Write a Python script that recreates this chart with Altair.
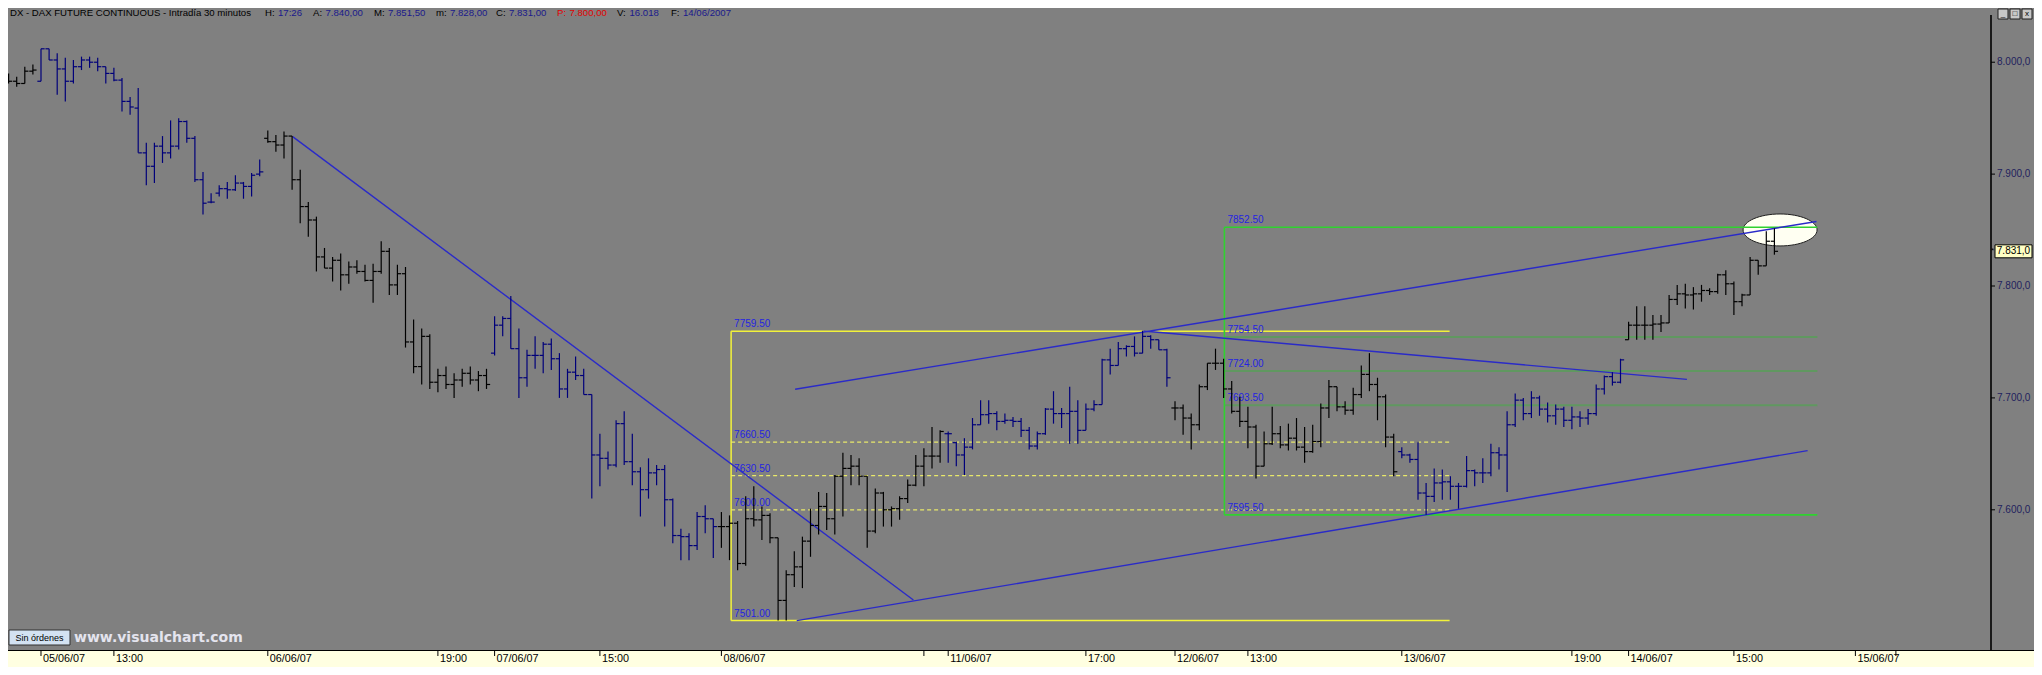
import altair as alt
import pandas as pd

# ---------------- data (30-minute OHLC bars, DAX future) ----------------
opens = [
    7983, 7983, 7981, 7992,
    7983, 8012, 8002, 7994, 7983, 7996, 8002, 8000, 7996, 7990, 7984, 7965, 7959, 7919,
    7907, 7925, 7919, 7925, 7947, 7932, 7895, 7875, 7883, 7887, 7886, 7892, 7889, 7900,
    7932, 7929, 7926, 7934, 7895, 7871, 7859, 7826, 7816, 7823, 7810, 7817, 7813, 7805,
    7813, 7831, 7801, 7811, 7750, 7728, 7755, 7714, 7720, 7712, 7716, 7722, 7716, 7720,
    7740, 7765, 7771, 7744, 7718, 7738, 7738, 7748, 7735, 7708, 7723, 7720, 7703, 7649,
    7646, 7640, 7677, 7643, 7634, 7618, 7633, 7636, 7609, 7577, 7576, 7568, 7594, 7592,
    7585, 7585, 7588, 7552, 7592, 7591, 7595, 7575, 7519, 7542, 7549, 7572, 7586, 7603,
    7592, 7630, 7637, 7639, 7630, 7581, 7615, 7600, 7601, 7610, 7622, 7639, 7648, 7648,
    7668, 7660, 7649, 7656, 7676, 7685, 7686, 7679, 7680, 7679, 7671, 7657, 7668, 7690,
    7686, 7686, 7688, 7671, 7690, 7694, 7734, 7729, 7744, 7746, 7740, 7755, 7752, 7743,
    7691, 7691, 7682, 7676, 7710, 7731, 7731, 7708, 7688, 7679, 7674, 7639, 7659, 7668,
    7658, 7664, 7656, 7652, 7661, 7691, 7710, 7692, 7689, 7703, 7721, 7712, 7701, 7665,
    7652, 7649, 7645, 7615, 7612, 7624, 7625, 7621, 7621, 7635, 7633, 7633, 7651, 7649,
    7676, 7698, 7686, 7700, 7690, 7684, 7690, 7680, 7683, 7682, 7686, 7708, 7719, 7714,
    7752, 7765, 7765, 7765, 7766, 7767, 7788, 7793, 7792, 7793, 7796, 7795, 7810, 7802,
    7786, 7792, 7823, 7818, 7840,
]
highs = [
    7990, 7987, 7996, 7998,
    8012, 8012, 8008, 8004, 8002, 8005, 8005, 8004, 7996, 7995, 7986, 7969, 7977, 7928,
    7928, 7934, 7948, 7950, 7948, 7934, 7902, 7883, 7890, 7893, 7899, 7893, 7901, 7913,
    7939, 7935, 7938, 7934, 7904, 7875, 7862, 7834, 7826, 7829, 7822, 7823, 7819, 7820,
    7840, 7834, 7819, 7817, 7770, 7762, 7757, 7726, 7728, 7722, 7726, 7728, 7724, 7726,
    7773, 7773, 7791, 7762, 7743, 7755, 7750, 7753, 7740, 7726, 7737, 7726, 7703, 7668,
    7652, 7680, 7688, 7668, 7638, 7646, 7640, 7640, 7610, 7583, 7579, 7598, 7604, 7592,
    7598, 7595, 7590, 7612, 7621, 7603, 7597, 7575, 7546, 7563, 7576, 7601, 7616, 7615,
    7631, 7651, 7649, 7646, 7630, 7619, 7616, 7603, 7612, 7627, 7649, 7655, 7674, 7671,
    7670, 7661, 7664, 7682, 7698, 7698, 7688, 7686, 7683, 7682, 7674, 7670, 7691, 7706,
    7691, 7710, 7698, 7695, 7698, 7735, 7744, 7750, 7747, 7755, 7760, 7756, 7752, 7744,
    7697, 7694, 7686, 7712, 7731, 7744, 7735, 7715, 7701, 7692, 7676, 7670, 7692, 7675,
    7677, 7682, 7674, 7676, 7695, 7716, 7710, 7697, 7709, 7729, 7740, 7718, 7703, 7668,
    7656, 7650, 7661, 7624, 7637, 7636, 7630, 7624, 7648, 7636, 7646, 7659, 7656, 7688,
    7704, 7700, 7706, 7702, 7696, 7694, 7692, 7692, 7688, 7690, 7712, 7720, 7723, 7735,
    7768, 7782, 7782, 7774, 7774, 7792, 7801, 7802, 7799, 7801, 7798, 7811, 7814, 7804,
    7793, 7826, 7823, 7849, 7851.5,
]
lows = [
    7981, 7978, 7981, 7989,
    7983, 8002, 7971, 7965, 7981, 7993, 7995, 7992, 7981, 7983, 7956, 7953, 7919, 7890,
    7892, 7910, 7914, 7922, 7928, 7893, 7864, 7874, 7880, 7878, 7885, 7878, 7880, 7898,
    7928, 7920, 7914, 7886, 7856, 7844, 7813, 7816, 7804, 7796, 7802, 7811, 7804, 7785,
    7811, 7792, 7792, 7745, 7722, 7712, 7708, 7705, 7708, 7700, 7710, 7712, 7706, 7708,
    7738, 7755, 7744, 7700, 7710, 7726, 7722, 7725, 7700, 7700, 7716, 7703, 7610, 7621,
    7636, 7638, 7640, 7622, 7594, 7610, 7622, 7585, 7570, 7555, 7555, 7564, 7579, 7557,
    7566, 7555, 7546, 7550, 7585, 7573, 7570, 7501, 7501, 7531, 7530, 7558, 7578, 7582,
    7578, 7594, 7622, 7622, 7566, 7579, 7585, 7585, 7591, 7606, 7621, 7621, 7637, 7642,
    7642, 7639, 7631, 7654, 7676, 7677, 7671, 7677, 7674, 7665, 7654, 7654, 7667, 7677,
    7673, 7659, 7659, 7671, 7688, 7694, 7721, 7729, 7737, 7737, 7740, 7744, 7743, 7710,
    7680, 7667, 7654, 7671, 7707, 7725, 7700, 7686, 7674, 7655, 7628, 7639, 7658, 7655,
    7653, 7653, 7642, 7651, 7656, 7682, 7688, 7685, 7685, 7700, 7706, 7680, 7656, 7630,
    7646, 7642, 7609, 7595.5, 7607, 7609, 7609, 7601, 7620, 7621, 7624, 7630, 7636, 7616,
    7674, 7680, 7682, 7684, 7678, 7676, 7674, 7672, 7674, 7676, 7684, 7703, 7711, 7713,
    7752, 7752, 7752, 7752, 7759, 7767, 7783, 7780, 7779, 7786, 7792, 7793, 7792, 7774,
    7782, 7792, 7810, 7818, 7828,
]
closes = [
    7983, 7981, 7992, 7993,
    8012, 8002, 7994, 7983, 7996, 8002, 8000, 7996, 7990, 7984, 7965, 7960, 7919, 7907,
    7925, 7919, 7925, 7947, 7932, 7895, 7874, 7875, 7887, 7886, 7892, 7889, 7899, 7902,
    7929, 7926, 7934, 7895, 7871, 7859, 7826, 7816, 7823, 7810, 7817, 7813, 7805, 7813,
    7831, 7801, 7811, 7750, 7728, 7755, 7714, 7720, 7712, 7716, 7722, 7716, 7720, 7712,
    7765, 7771, 7744, 7718, 7738, 7738, 7748, 7735, 7708, 7723, 7720, 7703, 7649, 7646,
    7640, 7677, 7643, 7634, 7618, 7633, 7636, 7609, 7577, 7576, 7568, 7594, 7592, 7585,
    7585, 7588, 7552, 7592, 7591, 7595, 7575, 7519, 7542, 7549, 7572, 7586, 7603, 7592,
    7630, 7637, 7639, 7630, 7581, 7615, 7600, 7601, 7610, 7622, 7639, 7648, 7648, 7670,
    7668, 7649, 7656, 7676, 7685, 7686, 7679, 7680, 7679, 7671, 7657, 7668, 7690, 7686,
    7686, 7688, 7671, 7690, 7694, 7734, 7729, 7744, 7746, 7740, 7755, 7752, 7743, 7718,
    7691, 7682, 7676, 7710, 7731, 7731, 7708, 7688, 7679, 7674, 7639, 7659, 7668, 7658,
    7664, 7656, 7652, 7661, 7691, 7710, 7692, 7689, 7703, 7721, 7712, 7701, 7665, 7634,
    7649, 7645, 7615, 7612, 7624, 7625, 7621, 7621, 7635, 7633, 7633, 7651, 7649, 7676,
    7698, 7686, 7700, 7690, 7684, 7690, 7680, 7683, 7682, 7686, 7708, 7719, 7714, 7734,
    7765, 7765, 7765, 7766, 7767, 7788, 7793, 7792, 7793, 7796, 7795, 7810, 7802, 7786,
    7792, 7823, 7818, 7840, 7831,
]
# first bar index of each trading day (04/06 tail, 05/06 ... 14/06)
day_starts = [0, 4, 32, 60, 88, 116, 144, 172, 200]

# bottom time axis (bar index -> label)
tick_idx = [4, 13, 32, 53, 60, 73, 88, 113, 116, 133, 144, 153, 172, 193, 200, 213, 228, 233]
tick_txt = ["05/06/07", "13:00", "06/06/07", "19:00", "07/06/07", "15:00", "08/06/07", "",
            "11/06/07", "17:00", "12/06/07", "13:00", "13/06/07", "19:00", "14/06/07", "15:00",
            "15/06/07", ""]
price_ticks = [7600, 7700, 7800, 7900, 8000]

# drawn trend lines (bar index, price)
trend_x1 = [35.07, 97.3, 97.1, 140.1]
trend_y1 = [7933.5, 7501.0, 7707.7, 7759.8]
trend_x2 = [111.7, 222.1, 223.2, 207.2]
trend_y2 = [7519.4, 7652.9, 7857.7, 7716.6]

# retracement boxes
fib1_levels = [7759.5, 7660.5, 7630.5, 7600.0, 7501.0]
fib1_solid = [True, False, False, False, True]
fib1_x = [89.2, 177.9]
fib2_levels = [7852.5, 7754.5, 7724.0, 7693.5, 7595.5]
fib2_solid = [True, False, False, False, True]
fib2_x = [150.1, 223.3]

ellipse_center = (218.7, 7850.1)
last_price = 7831.0

# header line
header_title = "DX - DAX FUTURE CONTINUOUS - Intradía 30 minutos"
header_keys = ["H:", "A:", "M:", "m:", "C:", "P:", "V:", "F:"]
header_vals = ["17:26", "7.840,00", "7.851,50", "7.828,00", "7.831,00", "7.800,00", "16.018", "14/06/2007"]
header_x = [265, 313, 374, 436, 496, 557, 617, 671]

# ---------------- build tables ----------------
n = len(opens)
day_of = []
d = 0
for k in range(n):
    while d + 1 < len(day_starts) and k >= day_starts[d + 1]:
        d += 1
    day_of.append(d)

bars = pd.DataFrame({
    "k": list(range(n)), "o": opens, "h": highs, "l": lows, "c": closes,
    "shade": ["navy" if dd % 2 else "black" for dd in day_of],
})

W, H = 1983, 628
xs = alt.Scale(domain=[-0.074, 244.74], nice=False, zero=False)
ys = alt.Scale(domain=[7474.7, 8035.95], nice=False, zero=False)
cs = alt.Scale(domain=["black", "navy"], range=["#000000", "#00007a"])
FONT = "Liberation Sans"

one = pd.DataFrame({"a": [0]})

# bottom yellow strip
strip = alt.Chart(one).mark_rect(color="#ffffe1").encode(
    x=alt.value(-10), x2=alt.value(2100), y=alt.value(H), y2=alt.value(H + 40))

# ---- hand-made axes ----
xt = pd.DataFrame({"k": tick_idx, "t": tick_txt})
x_dom = alt.Chart(one).mark_rule(color="#000000", strokeWidth=1).encode(
    x=alt.value(-10), x2=alt.value(W + 60), y=alt.value(H + 0.5))
x_ticks = alt.Chart(xt).mark_rule(color="#000000", strokeWidth=1).encode(
    x=alt.X("k:Q", scale=xs, axis=None), y=alt.value(H), y2=alt.value(H + 6))
x_lbls = alt.Chart(xt).mark_text(align="left", baseline="top", dx=2, fontSize=10.8, font=FONT,
                                 color="#000000").encode(
    x=alt.X("k:Q", scale=xs, axis=None), y=alt.value(H + 3), text="t:N")


def es_fmt(v):
    return f"{v:,.1f}".replace(",", "#").replace(".", ",").replace("#", ".")


yt = pd.DataFrame({"p": price_ticks, "t": [es_fmt(v) for v in price_ticks]})
y_dom = alt.Chart(one).mark_rule(color="#000000", strokeWidth=1.6).encode(
    x=alt.value(W), y=alt.value(-7), y2=alt.value(H))
y_ticks = alt.Chart(yt).mark_rule(color="#000000", strokeWidth=1).encode(
    y=alt.Y("p:Q", scale=ys, axis=None), x=alt.value(W), x2=alt.value(W + 4))
y_lbls = alt.Chart(yt).mark_text(align="left", baseline="middle", fontSize=10, font=FONT,
                                 color="#22225e").encode(
    y=alt.Y("p:Q", scale=ys, axis=None), x=alt.value(W + 6), text="t:N")

# ellipse highlight
ell = alt.Chart(pd.DataFrame({"k": [ellipse_center[0]], "p": [ellipse_center[1]]})).mark_point(
    shape="M-1,0 A1,0.432 0 1,1 1,0 A1,0.432 0 1,1 -1,0 Z", size=5476, filled=True,
    fill="#fffff2", stroke="#202020", strokeWidth=1, opacity=1).encode(
    x=alt.X("k:Q", scale=xs, axis=None), y=alt.Y("p:Q", scale=ys, axis=None))


def seg_layer(rows, **mk):
    df = pd.DataFrame(rows)
    return alt.Chart(df).mark_rule(**mk).encode(
        x=alt.X("x1:Q", scale=xs, axis=None), x2="x2:Q",
        y=alt.Y("y1:Q", scale=ys, axis=None), y2="y2:Q")


def box_rows(levels, solid, xr, want_solid):
    rows = [dict(x1=xr[0], x2=xr[1], y1=lv, y2=lv) for lv, s in zip(levels, solid) if s == want_solid]
    if want_solid:
        rows.append(dict(x1=xr[0], x2=xr[0], y1=min(levels), y2=max(levels)))
    return rows


y_solid = seg_layer(box_rows(fib1_levels, fib1_solid, fib1_x, True), color="#f2f23a", strokeWidth=1.5)
y_dash = seg_layer(box_rows(fib1_levels, fib1_solid, fib1_x, False), color="#e8e86a",
                   strokeWidth=1.2, strokeDash=[4, 3])
g_solid = seg_layer(box_rows(fib2_levels, fib2_solid, fib2_x, True), color="#2fd22f", strokeWidth=1.6)
g_dim = seg_layer(box_rows(fib2_levels, fib2_solid, fib2_x, False), color="#3fb03f",
                  strokeWidth=2, opacity=0.5)

trends = seg_layer([dict(x1=a, y1=b, x2=c, y2=e) for a, b, c, e in
                    zip(trend_x1, trend_y1, trend_x2, trend_y2)], color="#2a2ac8", strokeWidth=1.4)

lbl_rows = [dict(k=fib1_x[0], p=lv, t=f"{lv:.2f}") for lv in fib1_levels] + \
           [dict(k=fib2_x[0], p=lv, t=f"{lv:.2f}") for lv in fib2_levels]
labels = alt.Chart(pd.DataFrame(lbl_rows)).mark_text(
    align="left", baseline="bottom", dx=3, dy=-2, fontSize=10, font=FONT, color="#2424e0").encode(
    x=alt.X("k:Q", scale=xs, axis=None), y=alt.Y("p:Q", scale=ys, axis=None), text="t:N")

# OHLC bars
base = alt.Chart(bars)
hl = base.mark_rule(strokeWidth=1.2).encode(
    x=alt.X("k:Q", scale=xs, axis=None),
    y=alt.Y("l:Q", scale=ys, axis=None), y2="h:Q",
    color=alt.Color("shade:N", scale=cs, legend=None))
op = base.transform_calculate(xo="datum.k - 0.45").mark_rule(strokeWidth=1.2).encode(
    x=alt.X("xo:Q", scale=xs, axis=None), x2="k:Q",
    y=alt.Y("o:Q", scale=ys, axis=None),
    color=alt.Color("shade:N", scale=cs, legend=None))
cl = base.transform_calculate(xc="datum.k + 0.45").mark_rule(strokeWidth=1.2).encode(
    x=alt.X("k:Q", scale=xs, axis=None), x2="xc:Q",
    y=alt.Y("c:Q", scale=ys, axis=None),
    color=alt.Color("shade:N", scale=cs, legend=None))

# header line
TS = 9.6
KEYW = {"H:": 11, "A:": 10.5, "M:": 12, "m:": 12, "C:": 11, "P:": 10.5, "V:": 10.5, "F:": 10}
hrows = [dict(t=header_title, px=2, col="#000000")]
for key, val, gx in zip(header_keys, header_vals, header_x):
    red = key == "P:"
    hrows.append(dict(t=key, px=gx - 8, col="#e00000" if red else "#000000"))
    hrows.append(dict(t=val, px=gx - 8 + KEYW[key] + 2, col="#e00000" if red else "#1a1a8c"))
title = alt.Chart(pd.DataFrame(hrows)).mark_text(
    align="left", baseline="middle", fontSize=TS, font=FONT).encode(
    x=alt.X("px:Q", scale=None, axis=None), y=alt.value(-9), text="t:N",
    color=alt.Color("col:N", scale=None, legend=None))

# window buttons
wb = pd.DataFrame({"x1": [1990, 2002, 2014], "x2": [2000, 2012, 2024], "g": ["_", "□", "x"],
                   "xm": [1995, 2007, 2019]})
wbtn = alt.Chart(wb).mark_rect(fill="#c8c8c8", stroke="#202020", strokeWidth=1).encode(
    x=alt.X("x1:Q", scale=None, axis=None), x2="x2:Q", y=alt.value(-13), y2=alt.value(-3))
wtxt = alt.Chart(wb).mark_text(fontSize=8, font=FONT, color="#000000", baseline="middle").encode(
    x=alt.X("xm:Q", scale=None, axis=None), y=alt.value(-8), text="g:N")

# bottom-left button and watermark
btn = alt.Chart(one).mark_rect(fill="#d3e2f2", stroke="#303030", strokeWidth=1).encode(
    x=alt.value(1), x2=alt.value(62), y=alt.value(608), y2=alt.value(623))
btn_t = alt.Chart(one).mark_text(text="Sin órdenes", fontSize=9, font=FONT, color="#000000",
                                 baseline="middle").encode(x=alt.value(31.5), y=alt.value(615.5))
wm = alt.Chart(one).mark_text(text="www.visualchart.com", fontSize=14, font="DejaVu Sans",
                              fontWeight="bold", color="#e4e4ee", align="left",
                              baseline="middle").encode(x=alt.value(66), y=alt.value(615.5))

# last price tag on the right axis
lp = pd.DataFrame({"p": [last_price], "t": [es_fmt(last_price)], "m": ["*"]})
tag = alt.Chart(lp).transform_calculate(p1="datum.p - 5.8", p2="datum.p + 5.8").mark_rect(
    fill="#ffffc4", stroke="#000000", strokeWidth=1).encode(
    x=alt.value(1987), x2=alt.value(2024), y=alt.Y("p1:Q", scale=ys, axis=None), y2="p2:Q")
tag_t = alt.Chart(lp).mark_text(fontSize=10, font=FONT, color="#000000", baseline="middle").encode(
    x=alt.value(2005.5), y=alt.Y("p:Q", scale=ys, axis=None), text="t:N")
tag_m = alt.Chart(lp).mark_text(fontSize=8, font=FONT, color="#000000", baseline="middle").encode(
    x=alt.value(W + 1.5), y=alt.Y("p:Q", scale=ys, axis=None), text="m:N")

chart = alt.layer(
    strip, ell, y_solid, y_dash, g_dim, g_solid, trends, labels, hl, op, cl,
    x_dom, x_ticks, x_lbls, y_dom, y_ticks, y_lbls,
    title, wbtn, wtxt, btn, btn_t, wm, tag, tag_t, tag_m,
).properties(
    width=W, height=H,
    autosize=alt.AutoSizeParams(type="none"),
    padding={"left": 0, "top": 14, "right": 43, "bottom": 17},
    background="#808080",
).configure_view(stroke=None, fill="#808080")

chart.save("out.html", embed_options={"renderer": "svg", "actions": False})
